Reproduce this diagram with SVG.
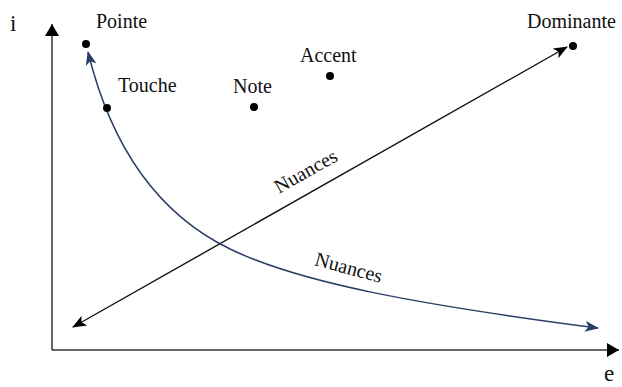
<svg xmlns="http://www.w3.org/2000/svg" width="622" height="387" viewBox="0 0 622 387">
<style>
text{font-family:"Liberation Serif","Times New Roman",serif;font-size:20px;fill:#111}
.axis{stroke:#333;stroke-width:1.5;fill:none}
.line{stroke:#111;stroke-width:1.4;fill:none}
.curve{stroke:#2b3f66;stroke-width:1.5;fill:none}
.dot{fill:#000}
</style>
<defs>
<marker id="ah" viewBox="0 0 14 11" refX="13" refY="5.5" markerWidth="14" markerHeight="11" markerUnits="userSpaceOnUse" orient="auto-start-reverse">
<path d="M0,0 L14,5.5 L0,11 L3.5,5.5 Z" fill="#000"/>
</marker>
<marker id="bh" viewBox="0 0 14 11" refX="13" refY="5.5" markerWidth="14" markerHeight="11" markerUnits="userSpaceOnUse" orient="auto-start-reverse">
<path d="M0,0 L14,5.5 L0,11 L3.5,5.5 Z" fill="#2b3f66"/>
</marker>
<marker id="axh" viewBox="0 0 12 14" refX="12" refY="7" markerWidth="12" markerHeight="14" markerUnits="userSpaceOnUse" orient="auto">
<path d="M0,0 L12,7 L0,14 Z" fill="#000"/>
</marker>
</defs>
<g id="axes">
<path class="axis" d="M52 350 L52 24" marker-end="url(#axh)"/>
<path class="axis" d="M52 350 L619 350" marker-end="url(#axh)"/>
<text x="10" y="31" style="font-size:23px">i</text>
<text x="604" y="381" style="font-size:23px">e</text>
</g>
<g id="connectors">
<path class="line" d="M73 327 L567 47" marker-start="url(#ah)" marker-end="url(#ah)"/>
<path class="curve" d="M88 52 C112 150 160 215 230 249 S 420 305 598 328" marker-start="url(#bh)" marker-end="url(#bh)"/>
<text transform="translate(309 177) rotate(-29.5)" text-anchor="middle">Nuances</text>
<text transform="translate(347 274) rotate(15)" text-anchor="middle">Nuances</text>
</g>
<g id="pointe"><circle class="dot" cx="86" cy="44" r="4"/><text x="96" y="28">Pointe</text></g>
<g id="touche"><circle class="dot" cx="107" cy="108" r="4"/><text x="118" y="92">Touche</text></g>
<g id="note"><circle class="dot" cx="254" cy="107" r="4"/><text x="233" y="93">Note</text></g>
<g id="accent"><circle class="dot" cx="330" cy="76" r="4"/><text x="300" y="62">Accent</text></g>
<g id="dominante"><circle class="dot" cx="573" cy="46" r="4"/><text x="527" y="28">Dominante</text></g>
</svg>
